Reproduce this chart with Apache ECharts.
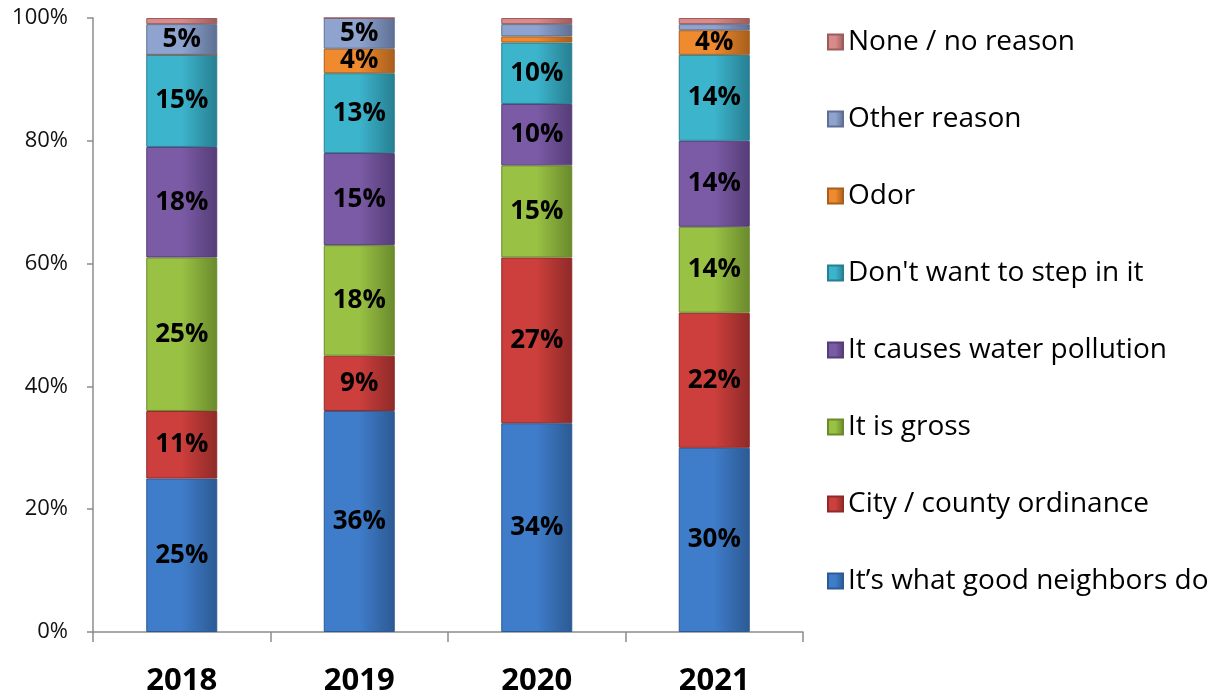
<!DOCTYPE html>
<html>
<head>
<meta charset="utf-8">
<script src="https://cdn.jsdelivr.net/npm/echarts@6/dist/echarts.min.js"></script>
<style>
  html, body { margin: 0; padding: 0; background: #fff; }
  #chart { width: 1220px; height: 698px; }
</style>
</head>
<body>
<div id="chart"></div>
<script>
// Survey years
const years = ['2018', '2019', '2020', '2021'];

// Share of respondents per reason (%), bottom to top of each stack
const goodNeighbors   = [25, 36, 34, 30];
const ordinance       = [11, 9, 27, 22];
const gross           = [25, 18, 15, 14];
const waterPollution  = [18, 15, 10, 14];
const stepInIt        = [15, 13, 10, 14];
const odor            = [0, 4, 1, 4];
const otherReason     = [5, 5, 2, 1];
const noReason        = [1, 0, 1, 1];

const seriesDefs = [
  { name: 'It\u2019s what good neighbors do', data: goodNeighbors,  color: '#3f7cc9', border: '#2c5a94' },
  { name: 'City / county ordinance',           data: ordinance,      color: '#cc3f3c', border: '#8f2a28' },
  { name: 'It is gross',                       data: gross,          color: '#99c144', border: '#6a8a2c' },
  { name: 'It causes water pollution',         data: waterPollution, color: '#7b5ba6', border: '#553d77' },
  { name: 'Don\'t want to step in it',         data: stepInIt,       color: '#3cb4cc', border: '#277f91' },
  { name: 'Odor',                              data: odor,           color: '#ef8a2e', border: '#a85e1c' },
  { name: 'Other reason',                      data: otherReason,    color: '#8ea4cf', border: '#5e6f93' },
  { name: 'None / no reason',                  data: noReason,       color: '#d98a8a', border: '#9c5c5c' }
];

const FONT = 'Open Sans';

const chart = echarts.init(document.getElementById('chart'));

const series = seriesDefs.map(s => ({
  name: s.name,
  type: 'bar',
  stack: 'total',
  barWidth: 71,
  data: s.data,
  itemStyle: {
    color: {
      type: 'linear', x: 0, y: 0, x2: 1, y2: 0,
      colorStops: [
        { offset: 0, color: s.color },
        { offset: 0.5, color: s.color },
        { offset: 1, color: s.border }
      ]
    },
    borderColor: s.border,
    borderWidth: 1
  },
  label: {
    show: true,
    position: 'inside',
    color: '#000',
    fontFamily: FONT,
    fontWeight: 'bold',
    fontSize: 26,
    formatter: p => (p.value >= 4 ? p.value + '%' : '')
  }
}));

chart.setOption({
  animation: false,
  backgroundColor: '#ffffff',
  color: seriesDefs.map(s => s.color),
  grid: { left: 93, right: 417, top: 18, bottom: 66, containLabel: false },
  legend: {
    orient: 'vertical',
    left: 822,
    top: 23,
    itemWidth: 15,
    itemHeight: 15,
    itemGap: 49,
    icon: 'rect',
    data: seriesDefs.map(s => s.name).reverse(),
    textStyle: { fontFamily: FONT, fontSize: 28, color: '#000', padding: [0, 0, 0, 0] }
  },
  xAxis: {
    type: 'category',
    data: years,
    axisLine: { show: true, lineStyle: { color: '#8c8c8c', width: 1.5 } },
    axisTick: { show: true, length: 10, lineStyle: { color: '#8c8c8c', width: 1.5 } },
    axisLabel: { fontFamily: FONT, fontWeight: 'bold', fontSize: 31, color: '#000', margin: 34 }
  },
  yAxis: {
    type: 'value',
    min: 0,
    max: 100,
    interval: 20,
    splitLine: { show: false },
    axisLine: { show: true, lineStyle: { color: '#8c8c8c', width: 1.5 } },
    axisTick: { show: true, length: 6, lineStyle: { color: '#8c8c8c', width: 1.5 } },
    axisLabel: { fontFamily: FONT, fontSize: 22, color: '#111', margin: 25, formatter: '{value}%' }
  },
  series: series
});
</script>
</body>
</html>
